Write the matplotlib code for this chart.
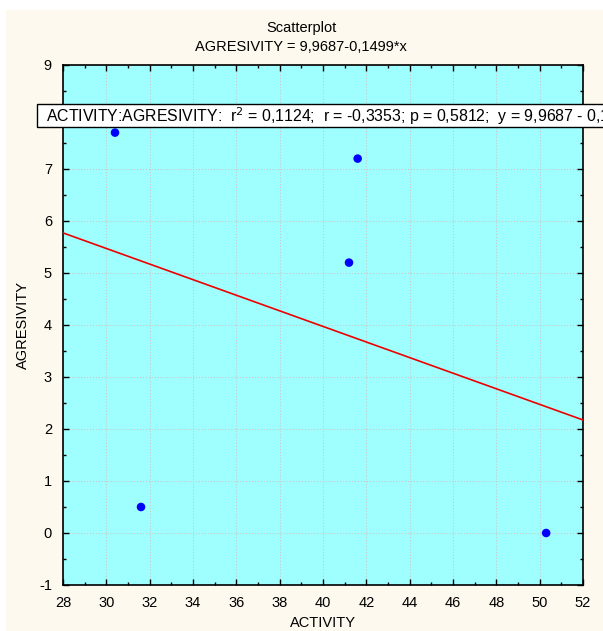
import numpy as np
import matplotlib.pyplot as plt
from matplotlib.patches import Rectangle
from matplotlib.ticker import MultipleLocator

plt.rcParams['font.family'] = ['Liberation Sans', 'DejaVu Sans']
plt.rcParams['axes.unicode_minus'] = False

# data
activity = [30.4, 41.6, 41.2, 31.6, 50.3]
agresivity = [7.7, 7.2, 5.2, 0.5, 0.0]
intercept = 9.9687
slope = -0.1499
stats_text = 'ACTIVITY:AGRESIVITY:  r$^2$ = 0,1124;  r = -0,3353; p = 0,5812;  y = 9,9687 - 0,1499*x'

W, H = 603, 631
fig = plt.figure(figsize=(W / 100, H / 100), dpi=100)
fig.patch.set_facecolor('white')
# cream panel behind the chart
fig.patches.append(Rectangle((6 / W, 0), 1, 1 - 10 / H, transform=fig.transFigure,
                             facecolor='#FDF9EF', edgecolor='none', zorder=-1))

ax = fig.add_axes([63 / W, 1 - 585 / H, 520 / W, 520 / H])
ax.set_zorder(1)
ax.set_facecolor('#9FFFFF')

xs = np.array([28, 52])
ax.plot(xs, intercept + slope * xs, color='#EE0000', lw=1.2, zorder=3)
ax.scatter(activity, agresivity, s=38, color='#0000FF', edgecolors='none', zorder=4)

ax.set_xlim(28, 52)
ax.set_ylim(-1, 9)
ax.xaxis.set_major_locator(MultipleLocator(2))
ax.xaxis.set_minor_locator(MultipleLocator(1))
ax.yaxis.set_major_locator(MultipleLocator(1))
ax.yaxis.set_minor_locator(MultipleLocator(0.5))
ax.grid(True, which='major', color='#C8C8C8', ls=':', lw=0.8)
ax.tick_params(which='both', direction='in', top=True, right=True, labelsize=10.5,
               color='black', width=1.0)
ax.tick_params(which='major', length=4, pad=8)
ax.tick_params(which='minor', length=2.5)
for sp in ax.spines.values():
    sp.set_linewidth(1.2)

ax.set_xlabel('ACTIVITY', fontsize=10.5, va='center')
ax.xaxis.set_label_coords(0.5, -(623 - 585) / 520)
ax.set_ylabel('AGRESIVITY', fontsize=10.5, va='center')
ax.yaxis.set_label_coords(-(63 - 23) / 520, 0.5)

fig.text(301 / W, 1 - 28 / H, 'Scatterplot', ha='center', va='center', fontsize=10.5)
fig.text(301 / W, 1 - 47 / H, 'AGRESIVITY = 9,9687-0,1499*x', ha='center', va='center', fontsize=10.5)

# stats box, runs past the right edge like the reference
fig.patches.append(Rectangle((37 / W, 1 - 127 / H), 1, 23 / H, transform=fig.transFigure,
                             facecolor='white', edgecolor='black', lw=1.0, zorder=5))
fig.text(46 / W, 1 - 116 / H, stats_text, ha='left', va='center', fontsize=11.4, zorder=10)

fig.savefig('out.png', dpi=100, facecolor=fig.get_facecolor())
